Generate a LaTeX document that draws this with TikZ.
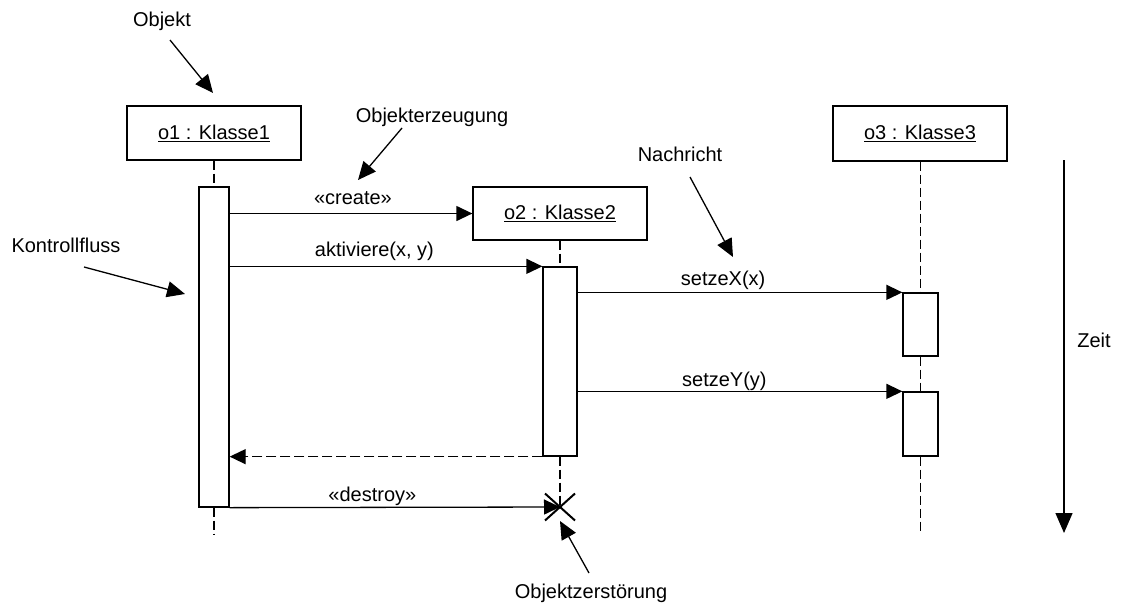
\documentclass[tikz,border=0pt]{standalone}
\usepackage{fontspec}
\setmainfont{Liberation Sans}
\usetikzlibrary{arrows.meta}

\begin{document}
\begin{tikzpicture}[x=1pt, y=-1pt,
  every node/.style={font=\fontsize{20}{24}\selectfont, inner sep=0pt},
  obj/.style={draw, line width=1.3pt, minimum width=174pt, minimum height=54pt},
  act/.style={draw, fill=white, line width=1.3pt},
  msg/.style={line width=1.3pt, -{Triangle[length=16pt, width=15pt]}},
  ret/.style={msg, dash pattern=on 10pt off 4pt},
  life/.style={line width=1.3pt, dash pattern=on 9pt off 4pt},
  note/.style={line width=1.3pt, -{Triangle[length=18pt, width=16pt]}},
  lbl/.style={anchor=base}
]
\useasboundingbox (0,0) rectangle (1121,605);

% object boxes
\node[obj] (o1) at (214,133) {\underline{o1 : Klasse1}};
\node[obj, minimum height=53pt] (o2) at (560,213.5) {\underline{o2 : Klasse2}};
\node[obj, minimum height=55pt] (o3) at (920,133.5) {\underline{o3 : Klasse3}};

% activation bars
\node[act, minimum width=30pt, minimum height=320pt] (a1) at (214,347) {};
\node[act, minimum width=34pt, minimum height=189pt] (a2) at (560,361.5) {};
\node[act, minimum width=35pt, minimum height=63pt] (a3) at (920.5,324.5) {};
\node[act, minimum width=35pt, minimum height=64pt] (a4) at (920.5,424) {};

% lifelines
\coordinate (end1) at (214,535);
\coordinate (kill) at (560,507);
\coordinate (end3) at (920.5,533);
\draw[life] (o1.south) -- (a1.north);
\draw[life] (a1.south) -- (end1);
\draw[life] (o2.south) -- (a2.north);
\draw[life] (a2.south) -- (kill);
\draw[life] (o3.south -| a3.north) -- (a3.north);
\draw[life] (a3.south) -- (a4.north);
\draw[life] (a4.south) -- (end3);

% messages
\draw[msg] (a1.east |- o2.west) -- (o2.west)
  node[lbl, pos=0.508, yshift=9pt] (m1) {«create»};
\draw[msg] (a1.east |- a2.north) -- (a2.north west)
  node[lbl, pos=0.463, yshift=10pt] (m2) {aktiviere(x, y)};
\draw[msg] (a2.east |- a3.north) -- (a3.north west)
  node[lbl, pos=0.448, yshift=7pt] (m3) {setzeX(x)};
\draw[msg] (a2.east |- a4.north) -- (a4.north west)
  node[lbl, pos=0.452, yshift=5pt] (m4) {setzeY(y)};
\draw[ret] (a2.south west) -- (a1.east |- a2.south);
\draw[msg] (a1.south east) -- (kill)
  node[lbl, pos=0.432, yshift=6pt] (m5) {«destroy»};

% destruction mark
\draw[line width=2pt] ([shift={(-15,-13.5)}]kill) -- ([shift={(15,13.5)}]kill);
\draw[line width=2pt] ([shift={(-15,13.5)}]kill) -- ([shift={(15,-13.5)}]kill);

% time axis
\coordinate (t0) at (1064,160);
\coordinate (t1) at (1064,533);
\draw[note, -{Triangle[length=20pt, width=17pt]}] (t0) -- (t1);
\node[lbl] (zeit) at (1094,347) {Zeit};

% annotations
\node[lbl] (nObj) at (162,27) {Objekt};
\coordinate (pObj0) at (170,40);
\coordinate (pObj1) at (213,93);
\draw[note] (pObj0) -- (pObj1);

\node[lbl] (nCre) at (432,122) {Objekterzeugung};
\coordinate (pCre0) at (402,128);
\coordinate (pCre1) at (358,180);
\draw[note] (pCre0) -- (pCre1);

\node[lbl] (nMsg) at (680,161) {Nachricht};
\coordinate (pMsg0) at (690,177);
\coordinate (pMsg1) at (733,257);
\draw[note] (pMsg0) -- (pMsg1);

\node[lbl] (nCtl) at (66,252) {Kontrollfluss};
\coordinate (pCtl0) at (84,267);
\coordinate (pCtl1) at (185,294);
\draw[note] (pCtl0) -- (pCtl1);

\node[lbl] (nDel) at (591,598) {Objektzerstörung};
\coordinate (pDel0) at (589,573);
\coordinate (pDel1) at (560,521);
\draw[note] (pDel0) -- (pDel1);
\end{tikzpicture}
\end{document}
